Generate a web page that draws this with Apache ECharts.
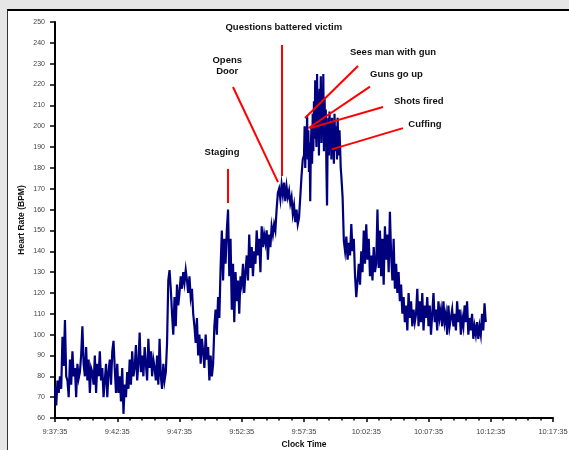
<!DOCTYPE html>
<html>
<head>
<meta charset="utf-8">
<script src="https://cdn.jsdelivr.net/npm/echarts@6/dist/echarts.min.js"></script>
<style>
  html, body { margin: 0; padding: 0; background: #e6e6e6; overflow: hidden; }
  #panel { position: absolute; left: 7px; top: 9px; width: 620px; height: 500px;
           background: #fff; border-top: 2px solid #000; border-left: 1px solid #333; }
  #chart { position: absolute; left: 0; top: 0; width: 569px; height: 450px; }
</style>
</head>
<body>
<div id="panel"></div>
<div id="chart"></div>
<script>
// Recording starts at this wall-clock time.
const startClock = '9:37:35';

// Heart rate (BPM). Most phases hold ten readings per minute (6 s apart);
// the confrontation was logged at twenty per minute (3 s apart).
const baseline = [
  75, 66, 78, 72, 80, 74, 99, 85, 107, 80,
  78, 70, 88, 76, 92, 80, 84, 70, 86, 79,
  82, 90, 104, 86, 80, 94, 78, 88, 72, 84,
  82, 76, 90, 72, 86, 80, 92, 78, 84, 70,
  78, 86, 70, 82, 88, 76, 92, 97, 84, 72,
  86, 72, 80, 68, 84, 62, 76, 70, 82, 74,
  88, 76, 92, 80, 84, 95, 78, 86, 101, 82,
  90, 80, 94, 86, 78, 98, 84, 92, 80, 88,
  84, 78, 90, 76, 98, 80, 74, 86, 78, 82
];
const firstRise = [
  96, 126, 131, 122, 110, 100, 118, 104, 124, 114,
  120, 128, 122, 130, 125, 131, 126, 120, 128, 118,
  122, 110, 104, 96, 108, 90, 100, 86, 98, 92,
  84, 100, 88, 94, 78, 90, 80, 86, 104, 112
];
const staging = [
  100, 118, 108, 132, 150, 126, 146, 134, 150, 160,
  128, 146, 112, 134, 106, 130, 116, 126, 110, 128,
  124, 134, 120, 130, 138, 126, 148, 132, 142, 128,
  140, 134, 150, 138, 146, 130, 152, 142, 148, 144,
  150, 136, 148, 142, 152, 148, 153, 150, 160, 168
];
const questioning = [
  170, 165, 172, 167, 173, 164, 171, 166, 169, 163,
  166, 158, 162, 154, 160, 153, 156, 166, 176, 184
];
const confrontation = [
  186, 200, 180, 196, 188, 205, 184, 198, 178, 192, 164, 190, 200, 182, 206, 188, 212, 194, 222, 200,
  190, 225, 196, 212, 186, 218, 200, 224, 192, 210, 196, 225, 188, 214, 198, 208, 180, 162, 194, 204,
  186, 207, 192, 200, 184, 204, 190, 198, 182, 206, 194, 188, 200, 184, 204, 192, 186, 198, 190, 180
];
const recovery = [
  176, 166, 145, 140, 147, 136, 144, 138, 153, 140,
  146, 128, 118, 126, 134, 124, 140, 130, 150, 134,
  153, 136, 146, 128, 138, 126, 142, 130, 134, 160,
  132, 150, 128, 146, 124, 152, 136, 148, 130, 159,
  138, 126, 146, 122, 134, 120, 130, 116, 124, 110,
  118, 106, 114, 102, 120, 108, 116, 104, 112, 106,
  110, 122, 104, 116, 106, 120, 102, 114, 108, 118,
  104, 114, 100, 110, 120, 106, 112, 102, 116, 108,
  112, 104, 116, 106, 110, 100, 114, 104, 108, 112,
  104, 110, 102, 116, 106, 112, 100, 108, 104, 114,
  106, 116, 100, 108, 102, 110, 98, 104, 100, 106,
  98, 104, 100, 110, 102, 115, 106
];

// Each phase: readings and the seconds between them.
const phases = [
  { values: baseline, step: 6 },
  { values: firstRise, step: 6 },
  { values: staging, step: 6 },
  { values: questioning, step: 6 },
  { values: confrontation, step: 3 },
  { values: recovery, step: 6 }
];

// Event notes: label anchor and pointer line, in (seconds elapsed, BPM).
const events = [
  { text: 'Staging', at: [805, 187.6], align: 'center', from: [833.7, 179.5], to: [833.7, 163.1] },
  { text: 'Opens\nDoor', at: [830, 228.8], align: 'center', from: [857.8, 218.8], to: [1074.7, 173.2] },
  { text: 'Questions battered victim', at: [1102.7, 247.5], align: 'center', from: [1094, 239], to: [1094, 176.1] },
  { text: 'Sees man with gun', at: [1421.7, 235.5], align: 'left', from: [1460.2, 228.9], to: [1204.8, 203.9] },
  { text: 'Guns go up', at: [1518.1, 225], align: 'left', from: [1518.1, 219], to: [1220.8, 199] },
  { text: 'Shots fired', at: [1633.7, 211.8], align: 'left', from: [1580.7, 209.2], to: [1228.9, 199.1] },
  { text: 'Cuffing', at: [1702.8, 200.9], align: 'left', from: [1677.1, 199.1], to: [1333.5, 188.9] }
];

// Pair each reading with its elapsed time.
const seriesData = [];
let elapsed = 0;
phases.forEach(ph => {
  ph.values.forEach(v => { seriesData.push([elapsed, v]); elapsed += ph.step; });
});

function clockLabel(sec) {
  const [h, m, s] = startClock.split(':').map(Number);
  const t = h * 3600 + m * 60 + s + sec;
  const hh = Math.floor(t / 3600);
  const mm = Math.floor((t % 3600) / 60);
  const ss = t % 60;
  return hh + ':' + String(mm).padStart(2, '0') + ':' + String(ss).padStart(2, '0');
}

const FONT = '"Liberation Sans", Arial, sans-serif';
const chart = echarts.init(document.getElementById('chart'), null, { renderer: 'canvas' });

chart.setOption({
  backgroundColor: 'transparent',
  animation: false,
  grid: { left: 55, right: 16, top: 22, bottom: 32, containLabel: false, outerBoundsMode: 'none' },
  xAxis: {
    type: 'value', min: 0, max: 2400, interval: 300,
    name: 'Clock Time', nameLocation: 'middle', nameGap: 22, nameMoveOverlap: false,
    nameTextStyle: { fontFamily: FONT, fontWeight: 'bold', fontSize: 8.5, color: '#111' },
    axisLine: { lineStyle: { color: '#000', width: 2 } },
    axisTick: { length: 4, lineStyle: { color: '#000', width: 1.5 } },
    minorTick: { show: true, splitNumber: 5, length: 2.5, lineStyle: { color: '#000', width: 1.5 } },
    splitLine: { show: false },
    axisLabel: { formatter: clockLabel, fontFamily: FONT, fontSize: 7.5, color: '#444', margin: 10 }
  },
  yAxis: {
    type: 'value', min: 60, max: 250, interval: 10,
    name: 'Heart Rate (BPM)', nameLocation: 'middle', nameGap: 29, nameRotate: 90, nameMoveOverlap: false,
    nameTextStyle: { fontFamily: FONT, fontWeight: 'bold', fontSize: 8.5, color: '#111' },
    axisLine: { show: true, lineStyle: { color: '#000', width: 2 } },
    axisTick: { show: true, length: 5, lineStyle: { color: '#000', width: 1.5 } },
    splitLine: { show: false },
    axisLabel: { fontFamily: FONT, fontSize: 7, color: '#444', margin: 10 }
  },
  series: [{
    type: 'line',
    data: seriesData,
    showSymbol: false,
    symbol: 'none',
    sampling: null,
    lineStyle: { color: '#00007f', width: 2.2, join: 'miter' },
    z: 3
  }]
});

// Event labels and red pointer lines, placed through the grid's own scales.
const px = p => chart.convertToPixel({ gridIndex: 0 }, p);
const graphics = [];
events.forEach(ev => {
  const a = px(ev.from), b = px(ev.to), t = px(ev.at);
  graphics.push({
    type: 'line', z: 10, silent: true,
    shape: { x1: a[0], y1: a[1], x2: b[0], y2: b[1] },
    style: { stroke: '#ff0000', lineWidth: 2 }
  });
  graphics.push({
    type: 'text', z: 11, silent: true, x: t[0], y: t[1],
    style: {
      text: ev.text, align: ev.align, verticalAlign: 'middle',
      font: 'bold 9.5px ' + FONT, fill: '#111', lineHeight: 11
    }
  });
});
chart.setOption({ graphic: graphics });
</script>
</body>
</html>
